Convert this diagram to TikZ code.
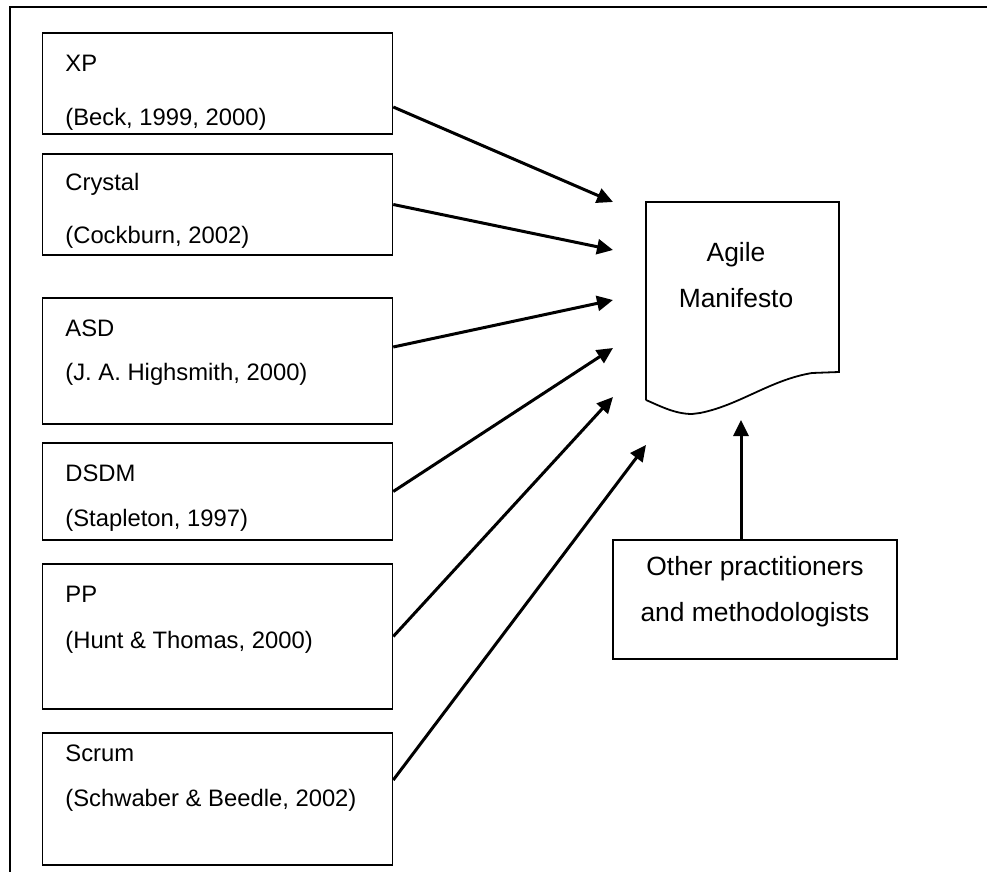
\documentclass[tikz,border=0pt]{standalone}
\usepackage{fontspec}
\setmainfont{Liberation Sans}
\usetikzlibrary{arrows.meta}

\tikzset{
  method/.style={draw, line width=0.75pt, rectangle, inner sep=0pt,
    minimum width=175pt},
  lbl/.style={anchor=base west, inner sep=0pt,
    font=\fontsize{11.9}{14}\selectfont},
  ctext/.style={anchor=base, inner sep=0pt,
    font=\fontsize{13.2}{16}\selectfont},
  influence/.style={line width=1.5pt,
    -{Triangle[length=8pt,width=7.5pt]}},
  frame/.style={line width=0.6pt},
  docshape/.style={line width=0.9pt, line join=miter}
}

\begin{document}
\begin{tikzpicture}[x=0.5pt, y=-0.5pt]
  \useasboundingbox (0,0) rectangle (987,872);

  % outer frame (top and left edges)
  \draw[frame] (10,872) -- (10,7) -- (987,7);

  % method boxes
  \node[method, minimum height=50.5pt] (xp)      at (217.5, 83.5)  {};
  \node[method, minimum height=50.5pt] (crystal) at (217.5, 204.5) {};
  \node[method, minimum height=63pt]   (asd)     at (217.5, 361)   {};
  \node[method, minimum height=48.5pt] (dsdm)    at (217.5, 491.5) {};
  \node[method, minimum height=72.5pt] (pp)      at (217.5, 636.5) {};
  \node[method, minimum height=66pt]   (scrum)   at (217.5, 799)   {};

  \node[lbl] (xpA) at (65, 72)  {XP};
  \node[lbl] (xpB) at (65, 126) {(Beck, 1999, 2000)};
  \node[lbl] (crA) at (65, 191) {Crystal};
  \node[lbl] (crB) at (65, 244) {(Cockburn, 2002)};
  \node[lbl] (asA) at (65, 336) {ASD};
  \node[lbl] (asB) at (65, 380) {(J. A. Highsmith, 2000)};
  \node[lbl] (dsA) at (65, 481) {DSDM};
  \node[lbl] (dsB) at (65, 526) {(Stapleton, 1997)};
  \node[lbl] (ppA) at (65, 602) {PP};
  \node[lbl] (ppB) at (65, 648) {(Hunt \& Thomas, 2000)};
  \node[lbl] (scA) at (65, 761) {Scrum};
  \node[lbl] (scB) at (65, 806) {(Schwaber \& Beedle, 2002)};

  % Agile Manifesto document shape
  \draw[docshape] (646,400) -- (646,202) -- (839,202) -- (839,372)
    -- (812,373)
    .. controls (770,380) and (740,405) .. (700,413)
    -- (692,414)
    .. controls (675,414) and (660,406) .. (646,400);
  \node[ctext] (agile) at (736,262) {Agile};
  \node[ctext] (manif) at (736,307) {Manifesto};

  % other contributors
  \node[draw, line width=0.75pt, rectangle, inner sep=0pt,
        minimum width=142pt, minimum height=59.5pt] (other) at (755,599.5) {};
  \node[ctext] (otA) at (755,575) {Other practitioners};
  \node[ctext] (otB) at (755,621) {and methodologists};

  % arrow tips beside the document
  \coordinate (tXP) at (613,202);
  \coordinate (tCR) at (613,250);
  \coordinate (tAS) at (613,300);
  \coordinate (tDS) at (613,348);
  \coordinate (tPP) at (613,397);
  \coordinate (tSC) at (646,445);
  \coordinate (tOT) at (741,420);

  \draw[influence] ([yshift=-11.75pt]xp.east) -- (tXP);
  \draw[influence] (crystal.east) -- (tCR);
  \draw[influence] ([yshift=7pt]asd.east) -- (tAS);
  \draw[influence] (dsdm.east) -- (tDS);
  \draw[influence] (pp.east) -- (tPP);
  \draw[influence] ([yshift=9.5pt]scrum.east) -- (tSC);
  \draw[influence] ([xshift=-7pt]other.north) -- (tOT);
\end{tikzpicture}
\end{document}
